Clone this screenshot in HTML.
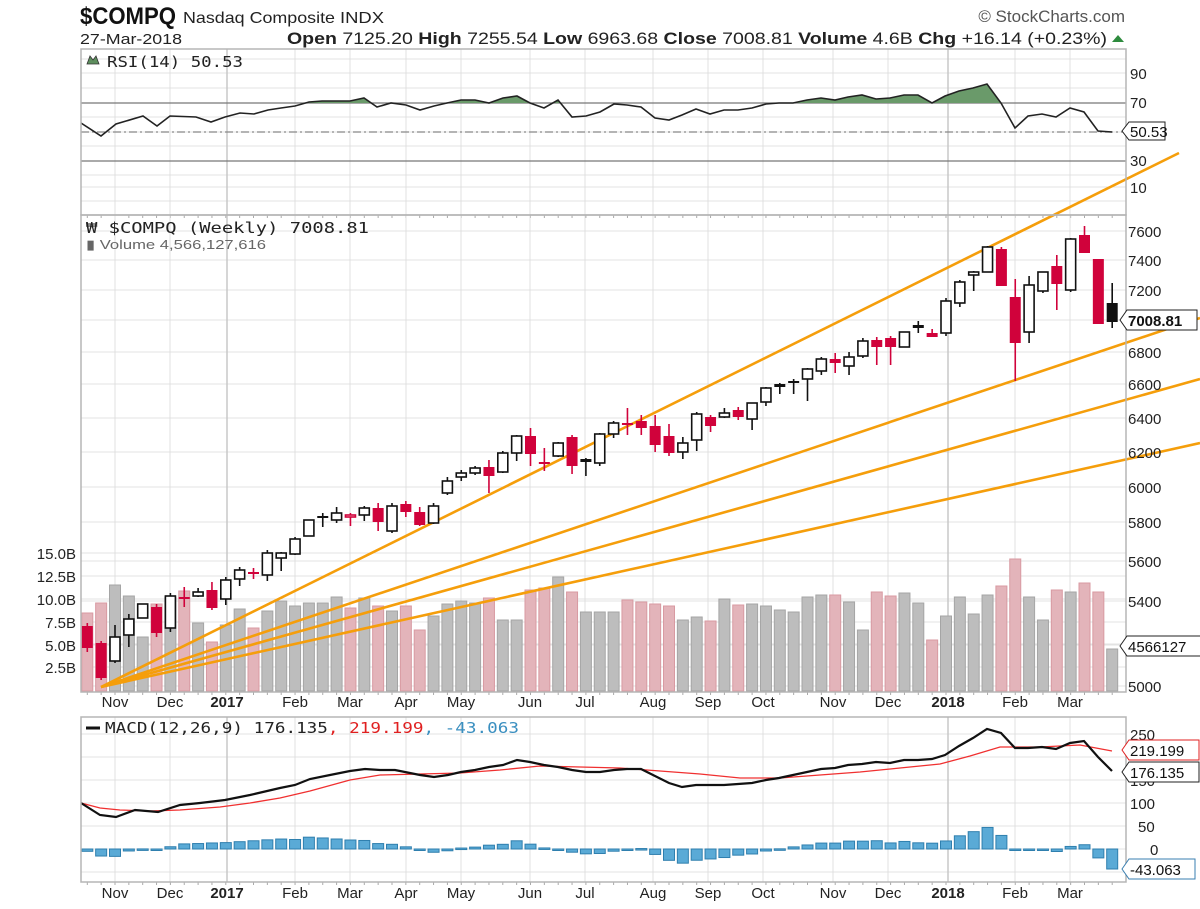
<!DOCTYPE html>
<html><head><meta charset="utf-8"><style>
body{margin:0;background:#fff;}
svg{display:block;font-family:"Liberation Sans",sans-serif;}
.ax{font-size:15px;fill:#222;}
.mono{font-family:"DejaVu Sans Mono","Liberation Mono",monospace;}
</style></head><body>
<svg id="s" width="1200" height="909" viewBox="0 0 1200 909" xmlns="http://www.w3.org/2000/svg">
<rect width="1200" height="909" fill="#fff"/>
<g id="grid"></g>
<!-- header -->
<text x="80" y="24" font-size="24" font-weight="bold" fill="#111" textLength="96" lengthAdjust="spacingAndGlyphs">$COMPQ</text>
<text x="183" y="23" font-size="16" fill="#222" textLength="152" lengthAdjust="spacingAndGlyphs">Nasdaq Composite</text>
<text x="340" y="23" font-size="16" fill="#222" textLength="44" lengthAdjust="spacingAndGlyphs">INDX</text>
<text x="80" y="44" font-size="15" fill="#222" textLength="102" lengthAdjust="spacingAndGlyphs">27-Mar-2018</text>
<text x="287" y="44" font-size="17" fill="#222" textLength="820" lengthAdjust="spacingAndGlyphs"><tspan font-weight="bold">Open</tspan> 7125.20 <tspan font-weight="bold">High</tspan> 7255.54 <tspan font-weight="bold">Low</tspan> 6963.68 <tspan font-weight="bold">Close</tspan> 7008.81 <tspan font-weight="bold">Volume</tspan> 4.6B <tspan font-weight="bold">Chg</tspan> +16.14 (+0.23%)</text>
<polygon points="1112,42 1124,42 1118,35" fill="#2e8b3e"/>
<text x="1125" y="22" font-size="17" fill="#555" text-anchor="end">© StockCharts.com</text>
<g id="plot"></g>
<!-- panel labels -->
<path d="M87,64 l3,-8 l3,4 l3,-4 l3,8 z" fill="#5e8e5e" stroke="#333" stroke-width="0.8"/>
<text x="107" y="67" font-size="15" class="mono" fill="#222" textLength="136" lengthAdjust="spacingAndGlyphs">RSI(14) 50.53</text>
<text x="86" y="233" font-size="15" class="mono" fill="#222" textLength="283" lengthAdjust="spacingAndGlyphs">₩ $COMPQ (Weekly) 7008.81</text>
<text x="86" y="249" font-size="13" fill="#666" textLength="180" lengthAdjust="spacingAndGlyphs">▮ Volume 4,566,127,616</text>
<line x1="86" y1="728" x2="100" y2="728" stroke="#111" stroke-width="3"/>
<text x="105" y="733" font-size="15" class="mono" fill="#222" textLength="414" lengthAdjust="spacingAndGlyphs">MACD(12,26,9) 176.135<tspan fill="#e02020">, 219.199</tspan><tspan fill="#3a8fc0">, -43.063</tspan></text>
<!-- RSI axis -->
<g class="ax">
<text x="1130" y="79">90</text><text x="1130" y="108">70</text><text x="1130" y="166">30</text><text x="1130" y="193">10</text>
<text x="1128" y="237">7600</text><text x="1128" y="266">7400</text><text x="1128" y="296">7200</text>
<text x="1128" y="358">6800</text><text x="1128" y="390">6600</text><text x="1128" y="424">6400</text><text x="1128" y="458">6200</text>
<text x="1128" y="493">6000</text><text x="1128" y="528">5800</text><text x="1128" y="567">5600</text><text x="1128" y="607">5400</text><text x="1128" y="692">5000</text>
<text x="1130" y="740">250</text><text x="1130" y="786">150</text><text x="1130" y="809">100</text><text x="1138" y="832">50</text><text x="1150" y="855">0</text>
<g text-anchor="end"><text x="76" y="559">15.0B</text><text x="76" y="582">12.5B</text><text x="76" y="605">10.0B</text><text x="76" y="628">7.5B</text><text x="76" y="651">5.0B</text><text x="76" y="673">2.5B</text></g>
</g>
<g id="xl"></g>
<!-- tags -->
<g font-size="15" fill="#111">
<path d="M1122,131 l7,-9 h36 v18 h-36 z" fill="#fff" stroke="#222"/><text x="1130" y="137">50.53</text>
<path d="M1120,320 l7,-10 h70 v20 h-70 z" fill="#fff" stroke="#222"/><text x="1128" y="326" font-weight="bold">7008.81</text>
<path d="M1120,646 l7,-10 h74 v20 h-74 z" fill="#fff" stroke="#222"/><text x="1128" y="652">4566127</text>
<path d="M1122,750 l7,-10 h70 v20 h-70 z" fill="#fff" stroke="#e02020"/><text x="1130" y="756">219.199</text>
<path d="M1122,772 l7,-10 h70 v20 h-70 z" fill="#fff" stroke="#222"/><text x="1130" y="778">176.135</text>
<path d="M1122,869 l7,-10 h66 v20 h-66 z" fill="#fff" stroke="#3a7fb0"/><text x="1130" y="875">-43.063</text>
</g>
<g font-size="15" fill="#222" text-anchor="middle">
<text x="115" y="707">Nov</text><text x="170" y="707">Dec</text><text x="227" y="707" font-weight="bold">2017</text><text x="295" y="707">Feb</text><text x="350" y="707">Mar</text><text x="406" y="707">Apr</text><text x="461" y="707">May</text><text x="530" y="707">Jun</text><text x="585" y="707">Jul</text><text x="653" y="707">Aug</text><text x="708" y="707">Sep</text><text x="763" y="707">Oct</text><text x="833" y="707">Nov</text><text x="888" y="707">Dec</text><text x="948" y="707" font-weight="bold">2018</text><text x="1015" y="707">Feb</text><text x="1070" y="707">Mar</text>
<text x="115" y="898">Nov</text><text x="170" y="898">Dec</text><text x="227" y="898" font-weight="bold">2017</text><text x="295" y="898">Feb</text><text x="350" y="898">Mar</text><text x="406" y="898">Apr</text><text x="461" y="898">May</text><text x="530" y="898">Jun</text><text x="585" y="898">Jul</text><text x="653" y="898">Aug</text><text x="708" y="898">Sep</text><text x="763" y="898">Oct</text><text x="833" y="898">Nov</text><text x="888" y="898">Dec</text><text x="948" y="898" font-weight="bold">2018</text><text x="1015" y="898">Feb</text><text x="1070" y="898">Mar</text>
</g>
</svg>
<script>
(function(){
var NS="http://www.w3.org/2000/svg";
var grid=document.getElementById('grid'),plot=document.getElementById('plot');
function el(p,t,a){var e=document.createElementNS(NS,t);for(var k in a)e.setAttribute(k,a[k]);p.appendChild(e);return e;}
var L=81,R=1126;
var panels=[[49,215],[215,692],[717,882]];
var months=[115,170,227,295,350,406,461,530,585,653,708,763,833,888,948,1015,1070];
var rsiG=[59,73,88,103,117,132,146,161,175,187,201];
rsiG.forEach(function(y){el(grid,'line',{x1:L,x2:R,y1:y,y2:y,stroke:'#e3e3e3'});});
[231,260,290,320,352,384,418,452,487,522,561,601,644,686,553,576,599,622,645,667].forEach(function(y){el(grid,'line',{x1:L,x2:R,y1:y,y2:y,stroke:'#e3e3e3'});});
[734,757,780,803,826,849,872].forEach(function(y){el(grid,'line',{x1:L,x2:R,y1:y,y2:y,stroke:'#e3e3e3'});});
panels.forEach(function(p){months.forEach(function(x,i){var yr=(x==227||x==948);el(grid,'line',{x1:x,x2:x,y1:p[0],y2:p[1],stroke:yr?'#c8c8c8':'#e0e0e0','stroke-width':yr?1.5:1});});
 for(var i=0;i<75;i++){var x=87.3+13.85*i;el(grid,'line',{x1:x,x2:x,y1:p[1],y2:p[1]+3,stroke:'#aaa'});}});
el(grid,'line',{x1:L,x2:R,y1:103,y2:103,stroke:'#777','stroke-width':1.3});
el(grid,'line',{x1:L,x2:R,y1:161,y2:161,stroke:'#777','stroke-width':1.3});
el(grid,'line',{x1:L,x2:R,y1:132,y2:132,stroke:'#888','stroke-width':1.3,'stroke-dasharray':'8,3,2,3'});
var rsi=[[81,123],[101,136],[116,124],[143,116],[157,126],[170,116],[196,117],[211,122],[225,117],[240,113],[254,114],[268,110],[281,108],[295,106],[309,102],[322,101],[336,101],[350,101],[364,98],[377,107],[391,103],[406,105],[420,110],[434,106],[447,103],[461,100],[475,100],[489,103],[503,98],[517,96],[530,103],[544,108],[558,100],[572,117],[586,116],[600,112],[614,104],[627,105],[641,107],[655,118],[669,120],[682,115],[696,109],[710,114],[724,110],[738,110],[752,108],[766,104],[779,103],[793,103],[807,100],[821,98],[835,100],[848,97],[862,95],[876,99],[890,98],[904,95],[918,95],[932,103],[945,96],[959,91],[973,88],[987,84],[1001,103],[1015,128],[1028,116],[1042,114],[1056,117],[1070,108],[1084,112],[1098,131],[1112,132]];
var pts=rsi.map(function(p){return p.join(',');}).join(' ');
var defs=el(plot,'defs',{});var cp=el(defs,'clipPath',{id:'c70'});el(cp,'rect',{x:L,y:49,width:R-L,height:54});
el(plot,'polygon',{points:'81,103 '+pts+' 1112,103','clip-path':'url(#c70)',fill:'#6a9a6a',stroke:'none'});
el(plot,'polyline',{points:pts,fill:'none',stroke:'#222','stroke-width':1.6});
var vt=[613,603,585,596,637,604,597,591,623,642,625,609,628,611,601,606,603,603,597,608,598,606,611,606,630,616,604,601,603,598,620,620,590,588,577,592,612,612,612,600,602,604,606,620,617,621,599,605,604,606,610,612,597,595,595,602,630,592,596,593,603,640,616,597,614,595,586,559,597,620,590,592,583,592,649];
var C=[
[626,648,623,652,'r'],[643,678,641,680,'r'],[637,661,625,663,'w'],[619,635,614,647,'w'],[604,618,604,618,'w'],[607,633,604,637,'r'],[596,628,593,632,'w'],[597,599,587,607,'r'],[592,596,588,597,'w'],[590,608,582,610,'r'],
[580,599,577,605,'w'],[570,579,567,586,'w'],[572,574,568,579,'r'],[553,575,550,581,'w'],[553,558,552,571,'w'],[539,554,537,555,'w'],[520,536,520,536,'w'],[516,517,513,527,'b'],[513,520,507,523,'w'],[515,517,513,526,'rh'],
[508,515,506,521,'w'],[508,522,503,531,'r'],[506,531,503,533,'w'],[504,512,501,517,'r'],[512,525,507,526,'r'],[506,523,503,524,'w'],[481,493,477,495,'w'],[473,477,470,481,'w'],[468,473,466,475,'w'],[467,476,460,493,'r'],
[453,472,451,473,'w'],[436,453,435,461,'w'],[436,454,428,466,'r'],[462,463,448,471,'r'],[443,456,442,457,'w'],[437,466,435,474,'r'],[459,462,458,476,'b'],[434,463,433,466,'w'],[423,434,421,438,'w'],[423,424,408,435,'r'],
[421,428,415,435,'r'],[426,445,415,452,'r'],[436,453,424,456,'r'],[443,452,437,459,'w'],[414,440,412,451,'w'],[417,426,415,432,'r'],[413,417,408,418,'w'],[410,417,407,420,'r'],[403,419,403,430,'w'],[388,402,387,406,'w'],
[384,387,383,394,'b'],[381,383,379,394,'b'],[369,379,368,401,'w'],[359,371,357,375,'w'],[359,363,353,373,'r'],[357,366,352,375,'w'],[341,356,338,358,'w'],[340,347,337,365,'r'],[338,347,336,365,'r'],[332,347,332,347,'w'],
[325,328,321,333,'b'],[333,337,329,337,'r'],[301,333,298,336,'w'],[282,303,280,307,'w'],[272,275,271,291,'w'],[247,272,246,272,'w'],[249,286,247,286,'r'],[297,343,279,381,'r'],[285,332,276,343,'w'],[272,291,272,293,'w'],
[266,284,255,310,'r'],[239,290,238,292,'w'],[235,253,226,253,'r'],[259,324,259,324,'r'],[303,322,283,328,'b']];
for(var i=0;i<75;i++){var x=87.3+13.85*i;var red=(C[i][4]=='r'||C[i][4]=='rh');
 el(plot,'rect',{x:x-5.5,y:vt[i],width:11,height:691-vt[i],fill:red?'#e3b4ba':'#bdbdbd',stroke:red?'#d89aa2':'#a5a5a5'});}
[[1179,153],[1200,318],[1200,379],[1200,443]].forEach(function(p){el(plot,'line',{x1:101,y1:687,x2:p[0],y2:p[1],stroke:'#f59e0b','stroke-width':2.6});});
for(var i=0;i<75;i++){var x=87.3+13.85*i,c=C[i],t=c[4];
 var col=(t=='r'||t=='rh')?'#d0023b':'#111';
 el(plot,'line',{x1:x,x2:x,y1:c[2],y2:c[3],stroke:col,'stroke-width':1.6});
 var h=Math.max(c[1]-c[0],2);
 if(t=='w'||t=='rh')el(plot,'rect',{x:x-5,y:c[0],width:10,height:h,fill:'#fff',stroke:col,'stroke-width':1.6});
 else el(plot,'rect',{x:x-5.5,y:c[0],width:11,height:h,fill:col});}
var m=[[81,803],[100,815],[116,817],[135,810],[158,812],[180,805],[200,803],[225,800],[250,795],[280,788],[295,785],[310,779],[330,775],[350,771],[365,769],[380,770],[395,770],[420,775],[434,777],[448,775],[461,772],[475,770],[489,767],[503,765],[517,760],[530,762],[544,765],[558,767],[572,770],[586,772],[600,772],[614,770],[627,769],[641,769],[655,776],[669,783],[682,787],[696,785],[710,785],[724,785],[738,784],[752,783],[766,780],[779,778],[793,775],[807,772],[821,769],[835,768],[848,765],[862,764],[876,762],[890,763],[904,760],[918,760],[932,759],[945,755],[959,746],[973,738],[987,729],[1001,733],[1015,748],[1028,748],[1042,747],[1056,749],[1070,743],[1084,741],[1098,757],[1112,771]];
var s=[[81,803],[100,808],[120,810],[150,811],[180,810],[220,807],[250,803],[280,798],[310,791],[350,780],[380,775],[420,774],[460,773],[500,770],[540,766],[580,767],[620,768],[660,771],[700,774],[740,778],[780,778],[820,775],[860,772],[900,768],[940,764],[970,756],[1000,747],[1040,747],[1080,745],[1112,751]];
function interp(a,x){for(var i=1;i<a.length;i++){if(x<=a[i][0]){var t=(x-a[i-1][0])/(a[i][0]-a[i-1][0]);return a[i-1][1]+t*(a[i][1]-a[i-1][1]);}}return a[a.length-1][1];}
for(var i=0;i<75;i++){var x=87.3+13.85*i;var d=interp(m,x)-interp(s,x);var y0=849,y1=849+d;
 el(plot,'rect',{x:x-5.5,y:Math.min(y0,y1),width:11,height:Math.max(Math.abs(d),1.5),fill:'#5aaad6',stroke:'#2f7fae','stroke-width':1});}
el(plot,'polyline',{points:s.map(function(p){return p.join(',');}).join(' '),fill:'none',stroke:'#f03030','stroke-width':1.3});
el(plot,'polyline',{points:m.map(function(p){return p.join(',');}).join(' '),fill:'none',stroke:'#111','stroke-width':2.2});
panels.forEach(function(p){el(plot,'rect',{x:L,y:p[0],width:R-L,height:p[1]-p[0],fill:'none',stroke:'#b5b5b5','stroke-width':1.5});});
})();
</script>
</body></html>
